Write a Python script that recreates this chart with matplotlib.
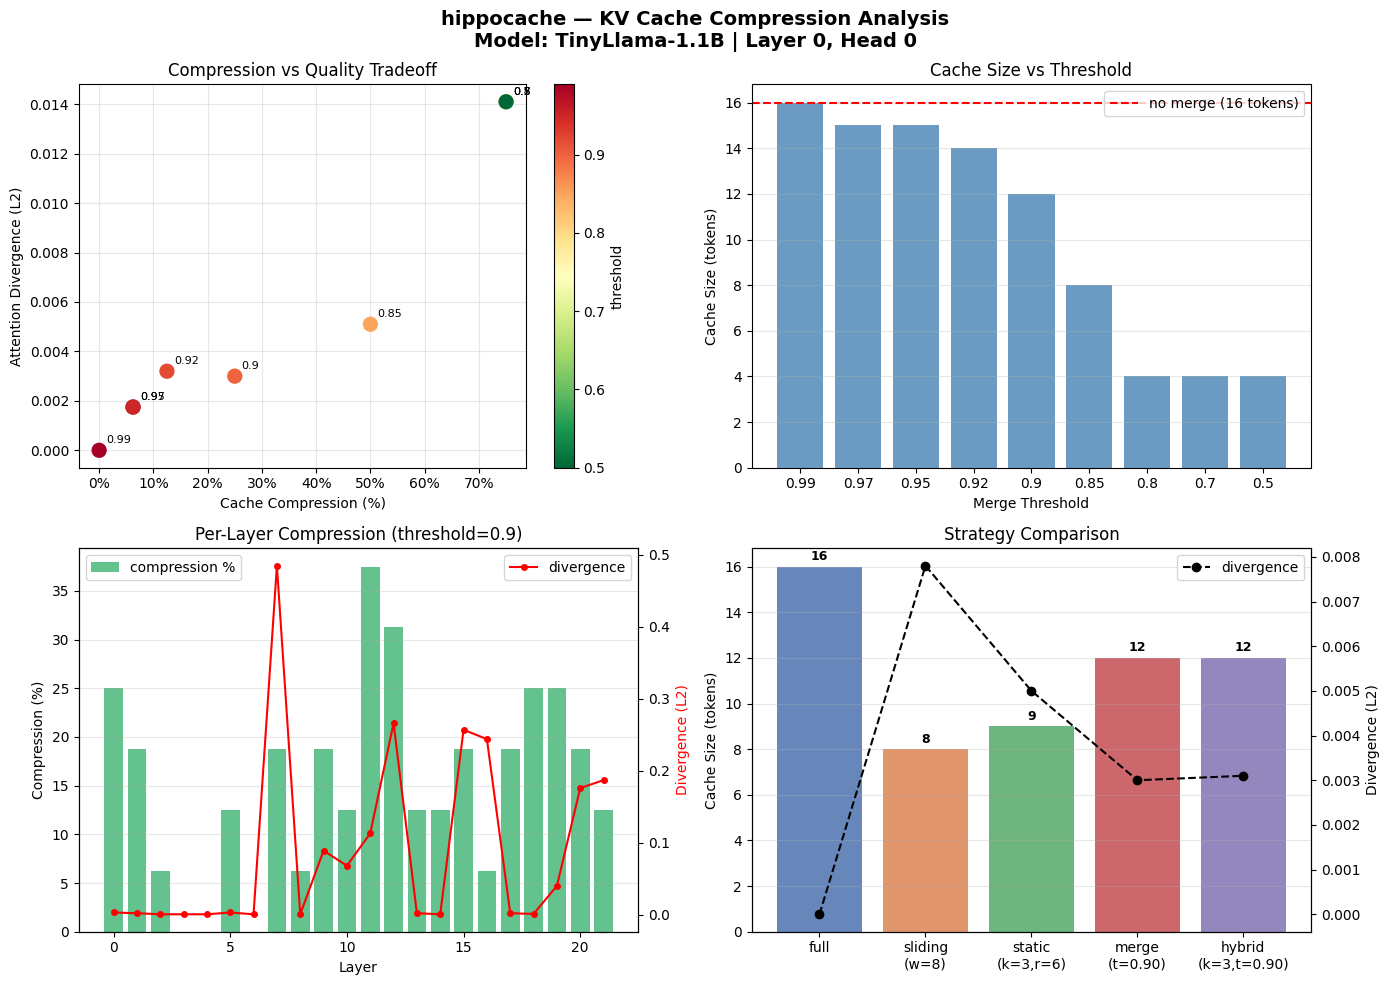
import matplotlib
matplotlib.use('Agg')
import matplotlib.pyplot as plt
import numpy as np
from matplotlib.ticker import PercentFormatter

# merge threshold sweep (layer 0, head 0)
thresholds = [0.99, 0.97, 0.95, 0.92, 0.9, 0.85, 0.8, 0.7, 0.5]
cache_sizes = [16, 15, 15, 14, 12, 8, 4, 4, 4]
divergences = [0.0, 0.00175, 0.00175, 0.0032, 0.0030, 0.0051, 0.0141, 0.0141, 0.0141]
full_size = 16

# per-layer results at threshold 0.9
layer_compression = [25, 18.75, 6.25, 0, 0, 12.5, 0, 18.75, 6.25, 18.75, 12.5,
                     37.5, 31.25, 12.5, 12.5, 18.75, 6.25, 18.75, 25, 25, 18.75, 12.5]
layer_divergence = [0.003, 0.002, 0.0005, 0.0005, 0.0005, 0.003, 0.0005, 0.485,
                    0.0005, 0.089, 0.068, 0.113, 0.266, 0.002, 0.0005, 0.257,
                    0.244, 0.002, 0.001, 0.040, 0.176, 0.187]

# strategy comparison
strategies = ['full', 'sliding\n(w=8)', 'static\n(k=3,r=6)', 'merge\n(t=0.90)', 'hybrid\n(k=3,t=0.90)']
strategy_sizes = [16, 8, 9, 12, 12]
strategy_div = [0.0, 0.0078, 0.0050, 0.0030, 0.0031]
strategy_colors = ['#4C72B0', '#DD8452', '#55A868', '#C44E52', '#8172B3']

compression = [1 - s / full_size for s in cache_sizes]

fig, axes = plt.subplots(2, 2, figsize=(14, 10), dpi=100)
fig.suptitle('hippocache \u2014 KV Cache Compression Analysis\nModel: TinyLlama-1.1B | Layer 0, Head 0',
             fontsize=14, fontweight='bold')

# 1. compression vs quality
ax = axes[0, 0]
sc = ax.scatter(compression, divergences, c=thresholds, cmap='RdYlGn_r', s=100,
                vmin=0.5, vmax=0.99, zorder=3)
for x, y, t in zip(compression, divergences, thresholds):
    ax.annotate(str(t), (x, y), textcoords='offset points', xytext=(5, 5), fontsize=8)
cb = fig.colorbar(sc, ax=ax)
cb.set_label('threshold')
ax.xaxis.set_major_formatter(PercentFormatter(1.0, decimals=0))
ax.set_xlabel('Cache Compression (%)')
ax.set_ylabel('Attention Divergence (L2)')
ax.set_title('Compression vs Quality Tradeoff')
ax.grid(True, alpha=0.3)

# 2. cache size vs threshold
ax = axes[0, 1]
pos = np.arange(len(thresholds))
ax.bar(pos, cache_sizes, color='steelblue', alpha=0.8)
ax.axhline(full_size, color='red', linestyle='--', label=f'no merge ({full_size} tokens)')
ax.set_xticks(pos)
ax.set_xticklabels([str(t) for t in thresholds])
ax.set_xlabel('Merge Threshold')
ax.set_ylabel('Cache Size (tokens)')
ax.set_title('Cache Size vs Threshold')
ax.legend(loc='upper right')
ax.grid(True, axis='y', alpha=0.3)

# 3. per-layer compression
ax = axes[1, 0]
layers = np.arange(len(layer_compression))
ax.bar(layers, layer_compression, color='mediumseagreen', alpha=0.8, label='compression %')
ax.set_xlabel('Layer')
ax.set_ylabel('Compression (%)')
ax.set_title('Per-Layer Compression (threshold=0.9)')
ax.legend(loc='upper left')
ax.grid(True, axis='y', alpha=0.3)
ax2 = ax.twinx()
ax2.plot(layers, layer_divergence, 'r-o', markersize=4, label='divergence')
ax2.set_ylabel('Divergence (L2)', color='red')
ax2.legend(loc='upper right')

# 4. strategy comparison
ax = axes[1, 1]
spos = np.arange(len(strategies))
bars = ax.bar(spos, strategy_sizes, color=strategy_colors, alpha=0.85)
for b, v in zip(bars, strategy_sizes):
    ax.text(b.get_x() + b.get_width() / 2, v + 0.15, str(v), ha='center', va='bottom',
            fontsize=9, fontweight='bold')
ax.set_xticks(spos)
ax.set_xticklabels(strategies)
ax.set_ylabel('Cache Size (tokens)')
ax.set_title('Strategy Comparison')
ax.grid(True, axis='y', alpha=0.3)
ax2 = ax.twinx()
ax2.plot(spos, strategy_div, 'k--o', label='divergence')
ax2.set_ylabel('Divergence (L2)')
ax2.legend(loc='upper right')

plt.tight_layout()
plt.savefig('out.png', dpi=100, bbox_inches='tight')
